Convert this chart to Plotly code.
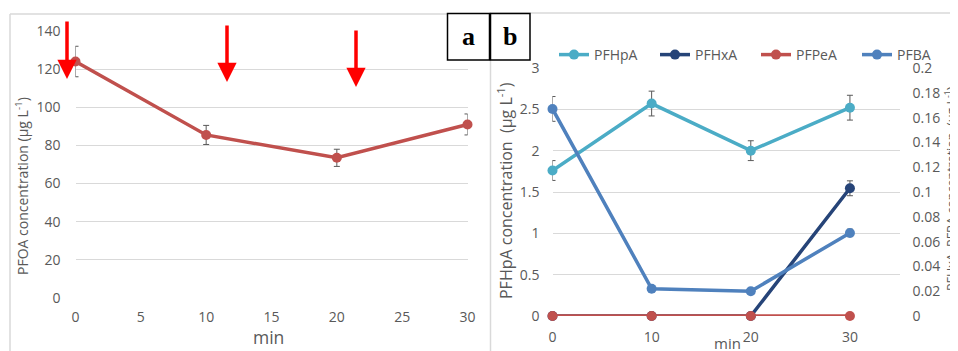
import plotly.graph_objects as go

W, H = 958, 351
OFF = 8  # page body margin

# ---- data ----
time_a = [0, 10, 20, 30]
pfoa = [124, 85.5, 73.5, 91]
pfoa_err = [8, 5, 4.5, 5.5]

time_b = [0, 10, 20, 30]
pfhpa = [1.76, 2.57, 2.0, 2.52]
pfhpa_err = [0.12, 0.15, 0.12, 0.15]
pfhxa = [0, 0, 0, 0.103]
pfhxa_err = [0, 0, 0, 0.006]
pfpea = [0, 0, 0, 0]
pfba = [0.167, 0.022, 0.020, 0.067]
pfba_err = [0.01, 0, 0, 0.003]

RED = "#C0504D"
AQUA = "#4BACC6"
NAVY = "#264478"
BLUE = "#4F81BD"
GRAY = "#595959"
GRID = "#D9D9D9"
FONT = "Open Sans"


def fx(px):
    return (px - OFF) / W


def fy(py):
    return 1 - (py - OFF) / H


fig = go.Figure()

eb = dict(type="data", color=GRAY, thickness=1, width=3)

fig.add_trace(go.Scatter(x=time_a, y=pfoa, mode="lines+markers", xaxis="x", yaxis="y",
                         line=dict(color=RED, width=3.5), marker=dict(color=RED, size=10),
                         error_y=dict(array=pfoa_err, **eb), showlegend=False, cliponaxis=False))

fig.add_trace(go.Scatter(x=time_b, y=pfhpa, name="PFHpA", mode="lines+markers", xaxis="x2", yaxis="y2",
                         line=dict(color=AQUA, width=3.5), marker=dict(color=AQUA, size=10),
                         error_y=dict(array=pfhpa_err, **eb), cliponaxis=False))
fig.add_trace(go.Scatter(x=time_b, y=pfhxa, name="PFHxA", mode="lines+markers", xaxis="x2", yaxis="y3",
                         line=dict(color=NAVY, width=3.5), marker=dict(color=NAVY, size=10),
                         error_y=dict(array=pfhxa_err, **eb), cliponaxis=False))
fig.add_trace(go.Scatter(x=time_b, y=pfpea, name="PFPeA", mode="lines+markers", xaxis="x2", yaxis="y3",
                         line=dict(color=RED, width=3.5), marker=dict(color=RED, size=10),
                         cliponaxis=False))
fig.add_trace(go.Scatter(x=time_b, y=pfba, name="PFBA", mode="lines+markers", xaxis="x2", yaxis="y3",
                         line=dict(color=BLUE, width=3.5), marker=dict(color=BLUE, size=10),
                         error_y=dict(array=pfba_err, **eb), cliponaxis=False))

tickfont = dict(family=FONT, size=14, color=GRAY)

fig.update_layout(
    width=W, height=H,
    margin=dict(l=0, r=0, t=0, b=0, autoexpand=False),
    paper_bgcolor="white", plot_bgcolor="white",
    font=dict(family=FONT, color=GRAY),
    xaxis=dict(domain=[fx(75.5), fx(467.5)], range=[0, 30], dtick=5, showgrid=False, zeroline=False,
               showline=False, tickfont=tickfont, ticks="", ticklabelstandoff=9, anchor="y"),
    yaxis=dict(domain=[fy(298), fy(31)], range=[0, 140], dtick=20, gridcolor=GRID, gridwidth=1,
               zeroline=False, showline=False, tickfont=tickfont, ticklabelstandoff=14, anchor="x"),
    xaxis2=dict(domain=[fx(552.5), fx(899.5)], range=[0, 35], tickvals=[0, 10, 20, 30], showgrid=False,
                zeroline=False, showline=False, tickfont=tickfont, ticklabelstandoff=11, anchor="y2"),
    yaxis2=dict(domain=[fy(316), fy(68)], range=[0, 3], dtick=0.5, gridcolor=GRID, gridwidth=1,
                zeroline=False, showline=False, tickfont=tickfont, ticklabelstandoff=12, anchor="x2"),
    yaxis3=dict(overlaying="y2", side="right", range=[0, 0.2], dtick=0.02, showgrid=False,
                zeroline=False, showline=False, tickfont=tickfont, ticklabelstandoff=12, anchor="x2"),
    legend=dict(orientation="h", x=fx(554), y=fy(55), xanchor="left", yanchor="middle",
                font=dict(family=FONT, size=14, color=GRAY), entrywidth=56, entrywidthmode="pixels",
                bgcolor="rgba(0,0,0,0)", itemwidth=30),
)

shapes = [
    # panel borders
    dict(type="line", xref="paper", yref="paper", x0=fx(10), x1=fx(490), y0=fy(14), y1=fy(14),
         line=dict(color=GRID, width=1.5)),
    dict(type="line", xref="paper", yref="paper", x0=fx(10), x1=fx(10), y0=fy(14), y1=fy(360),
         line=dict(color=GRID, width=1.5)),
    dict(type="line", xref="paper", yref="paper", x0=fx(490), x1=fx(966), y0=fy(13), y1=fy(13),
         line=dict(color=GRID, width=1.5)),
    dict(type="line", xref="paper", yref="paper", x0=fx(490.5), x1=fx(490.5), y0=fy(13), y1=fy(360),
         line=dict(color=GRID, width=1.5)),
    # label boxes
    dict(type="rect", xref="paper", yref="paper", x0=fx(447.5), x1=fx(489.5), y0=fy(60), y1=fy(13.5),
         line=dict(color="black", width=1.5), fillcolor="white"),
    dict(type="rect", xref="paper", yref="paper", x0=fx(490.5), x1=fx(530), y0=fy(60), y1=fy(13.5),
         line=dict(color="black", width=1.5), fillcolor="white"),
]


def label(text, x, y, size, family=FONT, color=GRAY, angle=0):
    return dict(text=text, x=fx(x), y=fy(y), xref="paper", yref="paper", showarrow=False,
                xanchor="center", yanchor="middle", textangle=angle,
                font=dict(family=family, size=size, color=color))


ann = [
    label("<b>a</b>", 468.5, 37, 26, family="Liberation Serif", color="black"),
    label("<b>b</b>", 510, 37, 26, family="Liberation Serif", color="black"),
    label("PFOA concentration (µg L<sup>-1</sup>)", 22, 186, 14, angle=-90),
    label("min", 268, 337, 17.5),
    label("PFHpA concentration  (µg L<sup>-1</sup>)", 505, 190, 16, angle=-90),
    label("PFHxA, PFBA concentration  (µg L<sup>-1</sup>)", 951, 189, 12.5, angle=-90),
    label("min", 727, 343, 15),
]

# red arrows
for (ax_px, y0_px, y1_px) in [(67, 20, 79), (227, 24, 82), (356, 29, 87)]:
    ann.append(dict(text="", x=fx(ax_px), y=fy(y1_px), xref="paper", yref="paper", showarrow=True,
                    ax=0, ay=-(y1_px - y0_px), arrowhead=2, arrowsize=1.1, arrowwidth=3.5,
                    arrowcolor="#FF0000", standoff=0))

fig.update_layout(shapes=shapes, annotations=ann)

fig.write_html("out.html")
